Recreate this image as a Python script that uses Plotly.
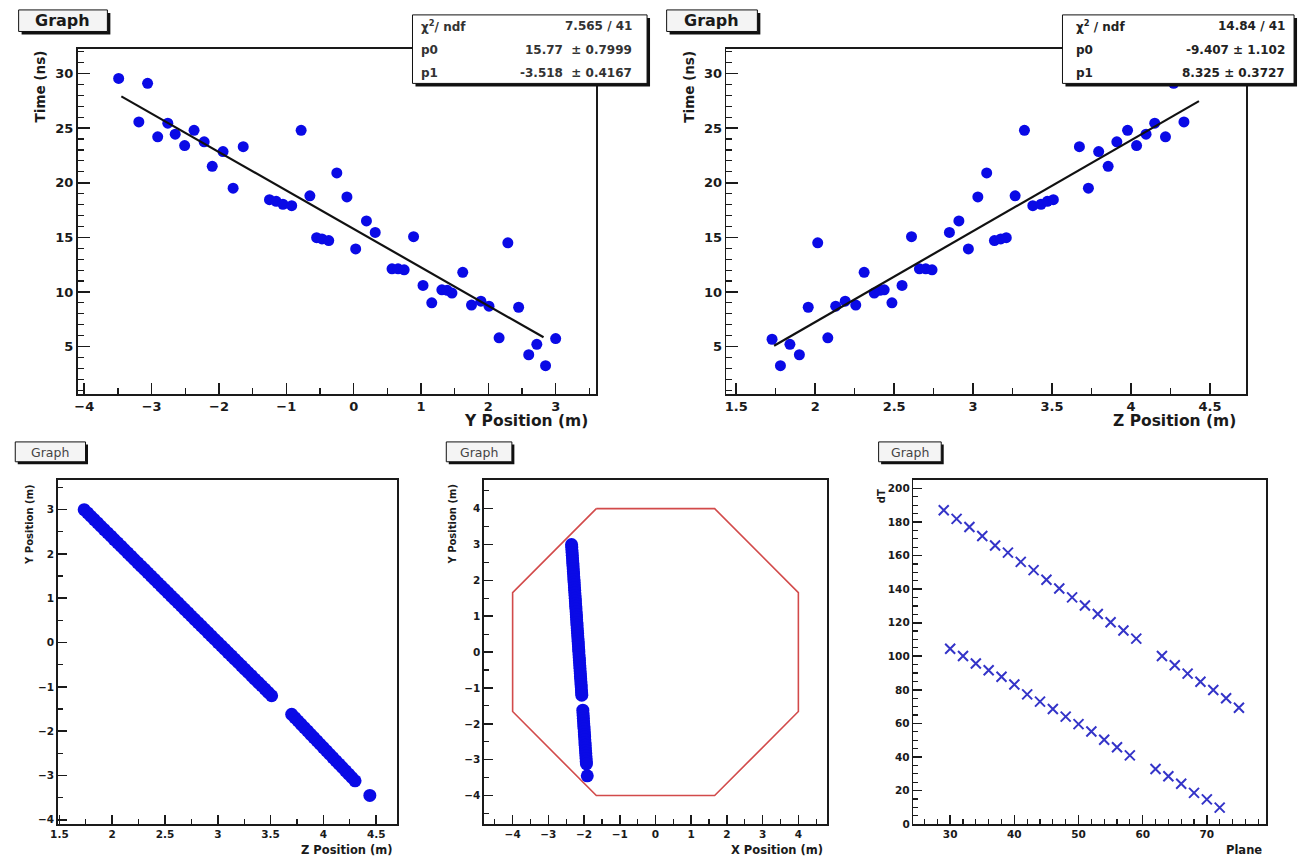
import plotly.graph_objects as go

W, H = 1302, 865
FONT = "DejaVu Sans"
INK = "#1a1a1a"

# ---------------- data ----------------
# top-left: Time vs Y position
y_pos = [-3.49, -3.19, -3.06, -2.91, -2.76, -2.65, -2.51, -2.37, -2.22, -2.10, -1.94, -1.79,
         -1.64, -1.25, -1.15, -1.05, -0.92, -0.78, -0.65, -0.55, -0.47, -0.37, -0.25, -0.10,
         0.03, 0.19, 0.32, 0.57, 0.66, 0.75, 0.89, 1.03, 1.16, 1.31, 1.39, 1.46, 1.62, 1.75,
         1.89, 2.01, 2.16, 2.29, 2.45, 2.60, 2.72, 2.85, 3.00]
time_vs_y = [29.55, 25.57, 29.10, 24.20, 25.45, 24.45, 23.40, 24.80, 23.75, 21.50, 22.85, 19.50,
             23.30, 18.45, 18.30, 18.03, 17.90, 24.80, 18.80, 14.97, 14.85, 14.70, 20.90, 18.70,
             13.94, 16.50, 15.45, 12.12, 12.12, 12.03, 15.06, 10.60, 9.00, 10.20, 10.15, 9.90,
             11.80, 8.80, 9.15, 8.70, 5.80, 14.50, 8.60, 4.25, 5.20, 3.25, 5.73]
fit_y_p0, fit_y_p1 = 15.77, -3.518
fit_y_range = [-3.45, 2.82]
stats_y_labels = ["\u03c7<sup>2</sup>/ ndf", "p0", "p1"]
stats_y_values = ["7.565 / 41", "15.77  \u00b1 0.7999", "-3.518  \u00b1 0.4167"]

# top-right: Time vs Z position
z_pos = [1.727, 1.78, 1.84, 1.90, 1.956, 2.016, 2.08, 2.13, 2.19, 2.257, 2.31, 2.374, 2.41,
         2.437, 2.486, 2.55, 2.61, 2.66, 2.70, 2.74, 2.85, 2.91, 2.97, 3.03, 3.086, 3.135,
         3.175, 3.21, 3.266, 3.325, 3.378, 3.43, 3.47, 3.508, 3.673, 3.73, 3.795, 3.855, 3.91,
         3.978, 4.035, 4.095, 4.15, 4.218, 4.27, 4.335, 4.38]
time_vs_z = [5.67, 3.25, 5.20, 4.25, 8.60, 14.50, 5.80, 8.70, 9.15, 8.80, 11.80, 9.90, 10.15,
             10.20, 9.00, 10.60, 15.06, 12.12, 12.12, 12.03, 15.45, 16.50, 13.94, 18.70, 20.90,
             14.70, 14.85, 14.97, 18.80, 24.80, 17.90, 18.03, 18.30, 18.45, 23.30, 19.50, 22.85,
             21.50, 23.75, 24.80, 23.40, 24.45, 25.45, 24.20, 29.10, 25.57, 29.55]
fit_z_p0, fit_z_p1 = -9.407, 8.325
fit_z_range = [1.74, 4.43]
stats_z_labels = ["\u03c7<sup>2</sup> / ndf", "p0", "p1"]
stats_z_values = ["14.84 / 41", "-9.407 \u00b1 1.102", "8.325 \u00b1 0.3727"]

# bottom-left / bottom-middle: track hits (Y, Z, X positions in m)
hit_y = [3.000, 2.925, 2.850, 2.775, 2.700, 2.625, 2.550, 2.475, 2.400, 2.325, 2.250, 2.175,
         2.100, 2.025, 1.950, 1.875, 1.800, 1.725, 1.650, 1.575, 1.500, 1.425, 1.350, 1.275,
         1.200, 1.125, 1.050, 0.975, 0.900, 0.825, 0.750, 0.675, 0.600, 0.525, 0.450, 0.375,
         0.300, 0.225, 0.150, 0.075, 0.000, -0.075, -0.150, -0.225, -0.300, -0.375, -0.450,
         -0.525, -0.600, -0.675, -0.750, -0.825, -0.900, -0.975, -1.050, -1.125, -1.200,
         -1.620, -1.695, -1.770, -1.845, -1.920, -1.995, -2.070, -2.145, -2.220, -2.295,
         -2.370, -2.445, -2.520, -2.595, -2.670, -2.745, -2.820, -2.895, -2.970, -3.045,
         -3.120, -3.450]
hit_z = [1.735, 1.767, 1.798, 1.830, 1.862, 1.893, 1.925, 1.957, 1.989, 2.020, 2.052, 2.084,
         2.115, 2.147, 2.179, 2.210, 2.242, 2.274, 2.306, 2.337, 2.369, 2.401, 2.432, 2.464,
         2.496, 2.527, 2.559, 2.591, 2.623, 2.654, 2.686, 2.718, 2.749, 2.781, 2.813, 2.844,
         2.876, 2.908, 2.939, 2.971, 3.003, 3.035, 3.066, 3.098, 3.130, 3.161, 3.193, 3.225,
         3.256, 3.288, 3.320, 3.351, 3.383, 3.415, 3.447, 3.478, 3.510,
         3.700, 3.730, 3.760, 3.790, 3.820, 3.850, 3.880, 3.910, 3.940, 3.970, 4.000, 4.030,
         4.060, 4.090, 4.120, 4.150, 4.180, 4.210, 4.240, 4.270, 4.300, 4.440]
hit_x = [-2.350, -2.345, -2.340, -2.335, -2.330, -2.324, -2.319, -2.314, -2.309, -2.304,
         -2.299, -2.294, -2.289, -2.284, -2.278, -2.273, -2.268, -2.263, -2.258, -2.253,
         -2.248, -2.243, -2.238, -2.233, -2.227, -2.222, -2.217, -2.212, -2.207, -2.202,
         -2.197, -2.192, -2.187, -2.181, -2.176, -2.171, -2.166, -2.161, -2.156, -2.151,
         -2.146, -2.141, -2.135, -2.130, -2.125, -2.120, -2.115, -2.110, -2.105, -2.100,
         -2.095, -2.089, -2.084, -2.079, -2.074, -2.069, -2.064,
         -2.035, -2.030, -2.025, -2.020, -2.015, -2.010, -2.005, -1.999, -1.994, -1.989,
         -1.984, -1.979, -1.974, -1.969, -1.964, -1.959, -1.953, -1.948, -1.943, -1.938,
         -1.933, -1.910]
octagon_x = [-1.657, 1.657, 4.0, 4.0, 1.657, -1.657, -4.0, -4.0, -1.657]
octagon_y = [4.0, 4.0, 1.657, -1.657, -4.0, -4.0, -1.657, 1.657, 4.0]

# bottom-right: dT vs plane
plane_upper = [29, 31, 33, 35, 37, 39, 41, 43, 45, 47, 49, 51, 53, 55, 57, 59,
               63, 65, 67, 69, 71, 73, 75]
dT_upper = [187.0, 181.8, 177.0, 171.6, 166.0, 161.7, 156.2, 151.3, 145.6, 140.4, 135.1,
            130.2, 125.2, 120.3, 115.4, 110.5,
            100.2, 94.7, 89.7, 84.8, 79.9, 75.0, 69.4]
plane_lower = [30, 32, 34, 36, 38, 40, 42, 44, 46, 48, 50, 52, 54, 56, 58,
               62, 64, 66, 68, 70, 72]
dT_lower = [104.5, 100.2, 95.7, 91.7, 87.8, 83.2, 77.3, 73.0, 68.6, 64.1, 59.6, 55.2, 50.3,
            45.8, 41.0,
            32.9, 28.6, 24.1, 18.7, 14.8, 9.9]

# ---------------- helpers ----------------
def px(x):
    return x / W


def py(y):
    return 1 - y / H


def dom_x(l, r):
    return [px(l), px(r)]


def dom_y(t, b):
    return [py(b), py(t)]


def axis(domain, rng, dtick, minor_dtick, fsize, tlen, mlen, anchor):
    return dict(
        domain=domain, range=rng, dtick=dtick, tick0=0, anchor=anchor,
        ticks="inside", ticklen=tlen, tickwidth=1.6, tickcolor=INK,
        showline=True, linecolor=INK, linewidth=1.6, mirror=True,
        showgrid=False, zeroline=False, fixedrange=True,
        tickfont=dict(family=FONT, size=fsize, color=INK, weight="bold"),
        minor=dict(dtick=minor_dtick, tick0=0, ticks="inside", ticklen=mlen,
                   tickcolor=INK, tickwidth=1.2, showgrid=False),
    )


fig = go.Figure()

BLUE = "#0a0ae6"

# top-left
fig.add_trace(go.Scatter(x=y_pos, y=time_vs_y, mode="markers", xaxis="x", yaxis="y",
                         marker=dict(color=BLUE, size=11, line=dict(width=0))))
fig.add_trace(go.Scatter(x=fit_y_range, y=[fit_y_p0 + fit_y_p1 * v for v in fit_y_range],
                         mode="lines", xaxis="x", yaxis="y",
                         line=dict(color="#111111", width=2.2)))
# top-right
fig.add_trace(go.Scatter(x=z_pos, y=time_vs_z, mode="markers", xaxis="x2", yaxis="y2",
                         marker=dict(color=BLUE, size=11, line=dict(width=0))))
fig.add_trace(go.Scatter(x=fit_z_range, y=[fit_z_p0 + fit_z_p1 * v for v in fit_z_range],
                         mode="lines", xaxis="x2", yaxis="y2",
                         line=dict(color="#111111", width=2.2)))
# bottom-left
fig.add_trace(go.Scatter(x=hit_z, y=hit_y, mode="markers", xaxis="x3", yaxis="y3",
                         marker=dict(color=BLUE, size=13, line=dict(width=0))))
# bottom-middle
fig.add_trace(go.Scatter(x=octagon_x, y=octagon_y, mode="lines", xaxis="x4", yaxis="y4",
                         line=dict(color="#d24a4a", width=1.6)))
fig.add_trace(go.Scatter(x=hit_x, y=hit_y, mode="markers", xaxis="x4", yaxis="y4",
                         marker=dict(color=BLUE, size=13, line=dict(width=0))))
# bottom-right
for xs, ys in ((plane_upper, dT_upper), (plane_lower, dT_lower)):
    fig.add_trace(go.Scatter(x=xs, y=ys, mode="markers", xaxis="x5", yaxis="y5",
                             marker=dict(symbol="x-thin-open", size=10, color="#3434c8",
                                         line=dict(color="#3434c8", width=2))))

layout = dict(
    width=W, height=H, autosize=False,
    margin=dict(l=0, r=0, t=0, b=0, pad=0),
    paper_bgcolor="white", plot_bgcolor="white", showlegend=False,
    xaxis=axis(dom_x(70, 591.7), [-4.1, 3.6], 1, 0.5, 13, 11, 6, "y"),
    yaxis=axis(dom_y(49.3, 396.7), [0.66, 32.25], 5, 1, 13, 12, 6, "x"),
    xaxis2=axis(dom_x(722.7, 1246), [1.437, 4.73], 0.5, 0.25, 13, 11, 6, "y2"),
    yaxis2=axis(dom_y(49.3, 396.7), [0.66, 32.25], 5, 1, 13, 12, 6, "x2"),
    xaxis3=axis(dom_x(50, 391.7), [1.484, 4.70], 0.5, 0.25, 10.5, 9, 5, "y3"),
    yaxis3=axis(dom_y(483.3, 830), [-4.10, 3.67], 1, 0.5, 10.5, 9, 5, "x3"),
    xaxis4=axis(dom_x(479, 824), [-4.8, 4.8], 1, 0.5, 10.5, 9, 5, "y4"),
    yaxis4=axis(dom_y(483.3, 830), [-4.8, 4.8], 1, 0.5, 10.5, 9, 5, "x4"),
    xaxis5=axis(dom_x(911, 1266), [24.27, 79.25], 10, 2, 10.5, 9, 5, "y5"),
    yaxis5=axis(dom_y(483.3, 830), [0, 205], 20, 5, 10.5, 9, 5, "x5"),
)
fig.update_layout(**layout)

shapes = []
annotations = []


def framed_box(x0, y0, x1, y1, fill, shadow):
    shapes.append(dict(type="rect", xref="paper", yref="paper", layer="above",
                       x0=px(x0 + shadow), x1=px(x1 + shadow), y0=py(y1 + shadow), y1=py(y0 + shadow),
                       fillcolor="#111111", line=dict(width=0)))
    shapes.append(dict(type="rect", xref="paper", yref="paper", layer="above",
                       x0=px(x0), x1=px(x1), y0=py(y1), y1=py(y0),
                       fillcolor=fill, line=dict(color="#111111", width=1)))


def text(x, y, s, size, xanchor="center", bold=True, color=INK, angle=0):
    annotations.append(dict(x=px(x), y=py(y), xref="paper", yref="paper", text=s,
                            showarrow=False, xanchor=xanchor, yanchor="middle",
                            textangle=angle,
                            font=dict(family=FONT, size=size, color=color,
                                      weight="bold" if bold else "normal")))


# "Graph" title boxes
framed_box(10.7, 10, 100, 31.7, "#f4f4f4", 3)
text(55.3, 21, "Graph", 16)
framed_box(662.7, 10, 754, 31.7, "#f4f4f4", 3)
text(708.3, 21, "Graph", 16)
for gx0, gx1 in ((7.3, 78), (441, 507), (876, 939)):
    framed_box(gx0, 445, gx1, 465, "#f4f4f4", 2.5)
    text((gx0 + gx1) / 2, 455.5, "Graph", 12.5, bold=False, color="#444444")

# stats boxes
framed_box(407, 15, 643, 84, "white", 3)
framed_box(1061, 15, 1294, 84, "white", 3)
for i, row_y in enumerate((26, 50, 74)):
    text(414, row_y, stats_y_labels[i], 12, xanchor="left", color="#333333")
    text(630, row_y, stats_y_values[i], 12, xanchor="right", color="#333333")
    text(1073, row_y, stats_z_labels[i], 12, xanchor="left", color="#222222")
    text(1287, row_y, stats_z_values[i], 12, xanchor="right", color="#222222")

# axis titles (ROOT style: right/top aligned)
text(586, 424, "Y Position (m)", 15.5, xanchor="right")
text(1238, 424, "Z Position (m)", 15.5, xanchor="right")
text(31.7, 87.5, "Time (ns)", 13.5, angle=-90)
text(685, 87.5, "Time (ns)", 13.5, angle=-90)

text(388, 856, "Z Position (m)", 11.5, xanchor="right")
text(822, 856, "X Position (m)", 11.5, xanchor="right")
text(1264, 856, "Plane", 11.5, xanchor="right")
text(21.7, 528, "Y Position (m)", 10, angle=-90)
text(447, 528, "Y Position (m)", 10, angle=-90)
text(879, 500, "dT", 10, angle=-90)

fig.update_layout(shapes=shapes, annotations=annotations)

fig.write_html("out.html",
               config={"displayModeBar": False, "staticPlot": True},
               post_script="document.body.style.margin='0';document.body.style.padding='0';"
                           "document.body.style.overflow='hidden';")
